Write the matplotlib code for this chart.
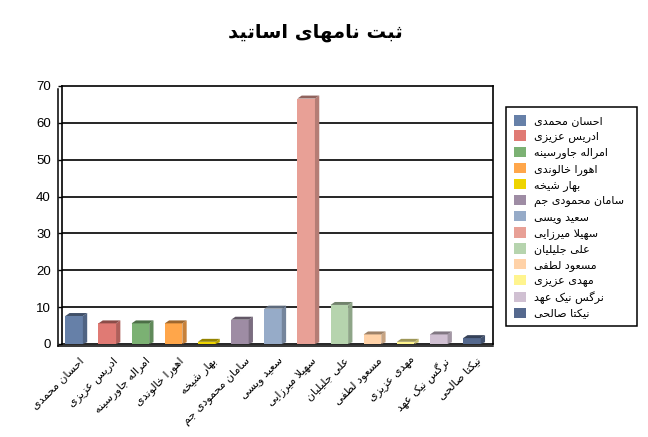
import matplotlib
matplotlib.use("Agg")
import matplotlib.pyplot as plt
from matplotlib.patches import Polygon, Patch, Rectangle
from matplotlib.colors import to_rgb

# ---------------- data ----------------
title = "ثبت نامهای اساتید"
names = ["احسان محمدی", "ادریس عزیزی", "امراله جاورسینه", "اهورا خالوندی",
         "بهار شیخه", "سامان محمودی جم", "سعید ویسی", "سهیلا میرزایی",
         "علی جلیلیان", "مسعود لطفی", "مهدی عزیزی", "نرگس نیک عهد", "نیکتا صالحی"]
values = [8, 6, 6, 6, 1, 7, 10, 67, 11, 3, 1, 3, 2]
colors = ["#6680A8", "#E07A74", "#7BB173", "#FFA64A", "#EED400", "#9E8CA4",
          "#96ABC8", "#E8A096", "#B6D4AE", "#FFD2A8", "#FFF48E", "#D0C0D2", "#55698E"]
yticks = [0, 10, 20, 30, 40, 50, 60, 70]

# ---------------- Arabic/Persian shaping (presentation forms) ----------------
def _dual(b):
    return tuple(chr(b + k) for k in range(4))
def _right(b):
    return (chr(b), chr(b + 1), None, None)

FORMS = {
    'ا': _right(0xFE8D), 'ب': _dual(0xFE8F), 'ت': _dual(0xFE95), 'ث': _dual(0xFE99),
    'ج': _dual(0xFE9D), 'ح': _dual(0xFEA1), 'خ': _dual(0xFEA5), 'د': _right(0xFEA9),
    'ذ': _right(0xFEAB), 'ر': _right(0xFEAD), 'ز': _right(0xFEAF), 'س': _dual(0xFEB1),
    'ش': _dual(0xFEB5), 'ص': _dual(0xFEB9), 'ض': _dual(0xFEBD), 'ط': _dual(0xFEC1),
    'ظ': _dual(0xFEC5), 'ع': _dual(0xFEC9), 'غ': _dual(0xFECD), 'ف': _dual(0xFED1),
    'ق': _dual(0xFED5), 'ل': _dual(0xFEDD), 'م': _dual(0xFEE1), 'ن': _dual(0xFEE5),
    'ه': _dual(0xFEE9), 'و': _right(0xFEED), 'ی': _dual(0xFBFC), 'ک': _dual(0xFB8E),
    'گ': _dual(0xFB92), 'پ': _dual(0xFB56), 'چ': _dual(0xFB7A), 'ژ': _right(0xFB8A),
}

def shape(text):
    out = []
    i = 0
    n = len(text)
    while i < n:
        c = text[i]
        if c not in FORMS:
            out.append(c)
            i += 1
            continue
        prev = text[i - 1] if i > 0 else ''
        nxt = text[i + 1] if i + 1 < n else ''
        pj = prev in FORMS and FORMS[prev][2] is not None
        if c == 'ل' and nxt == 'ا':
            out.append('\uFEFC' if pj else '\uFEFB')
            i += 2
            continue
        dual = FORMS[c][2] is not None
        nj = dual and nxt in FORMS
        iso, fin, ini, med = FORMS[c]
        if pj and nj:
            out.append(med)
        elif pj:
            out.append(fin)
        elif nj:
            out.append(ini)
        else:
            out.append(iso)
        i += 1
    return ''.join(out)[::-1]

def shade(c, f):
    r, g, b = to_rgb(c)
    return (r * f, g * f, b * f)

W, H = 648, 437

# ---------------- figure ----------------
fig = plt.figure(figsize=(6.48, 4.37), dpi=100)
fig.patch.set_facecolor("white")
ax = fig.add_axes([62 / W, 1 - 344 / H, (493 - 62) / W, (344 - 86) / H])
ax.set_xlim(-0.5, len(names) - 0.5)
ax.set_ylim(0, 70)

for y in yticks[1:-1]:
    ax.axhline(y, color="black", lw=1.2, zorder=1)

w0, w1, dx, dy = -0.40, 0.13, 0.13, 0.8
for i, (v, c) in enumerate(zip(values, colors)):
    vf = v - dy / 2
    ax.add_patch(Polygon([(i + w0, 0), (i + w1, 0), (i + w1, vf), (i + w0, vf)],
                         closed=True, facecolor=c, edgecolor="none", zorder=3))
    ax.add_patch(Polygon([(i + w1, 0), (i + w1 + dx, dy * 0.6), (i + w1 + dx, vf + dy),
                          (i + w1, vf)], closed=True, facecolor=shade(c, 0.78),
                         edgecolor="none", zorder=3))
    ax.add_patch(Polygon([(i + w0, vf), (i + w1, vf), (i + w1 + dx, vf + dy),
                          (i + w0 + dx, vf + dy)], closed=True, facecolor=shade(c, 0.62),
                         edgecolor="none", zorder=3))

for s in ax.spines.values():
    s.set_color("black")
    s.set_linewidth(1.2)

# 3D wall hint: outer left line and floor line
ax.plot([-0.010, -0.010], [-0.008, 0.99], transform=ax.transAxes, color="black",
        lw=1.1, clip_on=False)
ax.plot([-0.010, 1.0], [-0.008, -0.008], transform=ax.transAxes, color="black",
        lw=1.1, clip_on=False)

ax.set_yticks(yticks)
ax.set_yticklabels([str(t) for t in yticks], fontsize=9.5, family="Liberation Sans")
ax.tick_params(axis="y", length=3, pad=5, width=1)

ax.set_xticks(range(len(names)))
ax.set_xticklabels([shape(n) for n in names], rotation=45, ha="right", va="top",
                   rotation_mode="anchor", fontsize=8, family="DejaVu Sans")
ax.tick_params(axis="x", length=0, pad=8)

fig.text(315 / W, 1 - 33 / H, shape(title), ha="center", va="center",
         fontsize=14, fontweight="bold", family="DejaVu Sans")

# legend
fig.add_artist(Rectangle((506 / W, 1 - 326 / H), (637 - 506) / W, (326 - 107) / H,
                         transform=fig.transFigure, facecolor="white",
                         edgecolor="black", lw=1.1))
handles = [Patch(facecolor=c, edgecolor="none") for c in colors]
leg = fig.legend(handles, [shape(n) for n in names], loc="upper left",
                 bbox_to_anchor=(512 / W, 1 - 113 / H), fontsize=8,
                 frameon=False,
                 handlelength=1.05, handleheight=1.05, handletextpad=0.7,
                 labelspacing=0.38, borderpad=0.2, borderaxespad=0)
for t in leg.get_texts():
    t.set_family("DejaVu Sans")

fig.savefig("out.png", dpi=100)
